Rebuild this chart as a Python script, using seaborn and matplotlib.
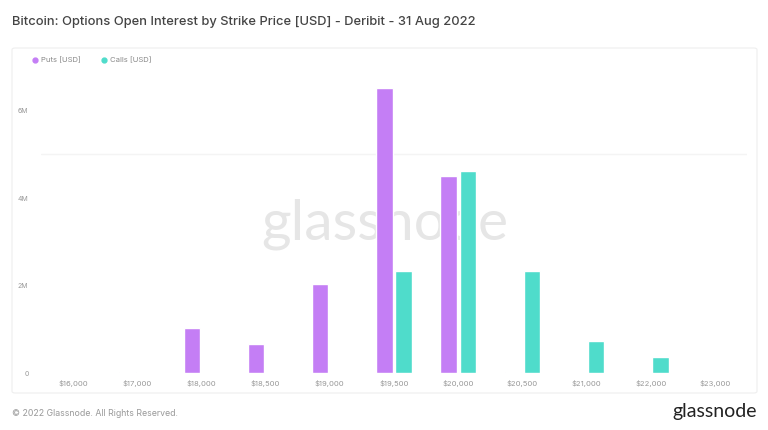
import matplotlib
matplotlib.use("Agg")
import matplotlib.pyplot as plt
import seaborn as sns
import pandas as pd
from matplotlib.patches import FancyBboxPatch
from matplotlib.lines import Line2D
from matplotlib.ticker import FuncFormatter

strikes = ["$16,000", "$17,000", "$18,000", "$18,500", "$19,000", "$19,500",
           "$20,000", "$20,500", "$21,000", "$22,000", "$23,000"]
puts_m = [0, 0.04, 1.03, 0.66, 2.05, 6.52, 4.50, 0.03, 0, 0, 0]
calls_m = [0, 0, 0, 0, 0, 2.34, 4.62, 2.34, 0.74, 0.38, 0]
series_names = ["Puts [USD]", "Calls [USD]"]
colors = ["#c47ef5", "#4fdccb"]
y_ticks_m = [0, 2, 4, 6]

sns.set_theme(style="white")
plt.rcParams["font.family"] = ["Inter", "DejaVu Sans"]

df = pd.DataFrame({
    "strike": strikes * 2,
    "series": [series_names[0]] * len(strikes) + [series_names[1]] * len(strikes),
    "value": [v * 1e6 for v in puts_m] + [v * 1e6 for v in calls_m],
})

fig = plt.figure(figsize=(7.68, 4.30), dpi=100)
W, H = 768, 430

# outer light panel
panel = FancyBboxPatch((12 / W, 1 - 393 / H), 745 / W, 345 / H,
                       boxstyle="round,pad=0,rounding_size=0.004",
                       transform=fig.transFigure, facecolor="white",
                       edgecolor="#eeeeee", linewidth=0.8, zorder=-5)
fig.patches.append(panel)

ax = fig.add_axes([41 / W, 1 - 373.3 / H, 706 / W, (373.3 - 80) / H])
ax.set_facecolor("none")
ax.set_zorder(1)

sns.barplot(data=df, x="strike", y="value", hue="series", palette=colors,
            hue_order=series_names, width=0.6, gap=0.15, legend=False,
            saturation=1, ax=ax, zorder=2)

ax.set_ylim(0, 6.7e6)
ax.set_xlim(-0.5, len(strikes) - 0.5)
ax.set_yticks([v * 1e6 for v in y_ticks_m])
ax.yaxis.set_major_formatter(FuncFormatter(lambda v, p: "0" if v == 0 else f"{v/1e6:.0f}M"))
ax.tick_params(axis="y", length=0, pad=9, labelsize=5, labelcolor="#999999")
ax.tick_params(axis="x", length=0, pad=5, labelsize=5.5, labelcolor="#999999")
ax.set_xlabel("")
ax.set_ylabel("")
for s in ax.spines.values():
    s.set_visible(False)
ax.axhline(5e6, color="#f4f4f4", lw=1, zorder=0.4)

# watermark
ax.text(0.501, 1 - 224 / H, "glassnode", transform=fig.transFigure,
        ha="center", va="center", fontsize=41, color="#e6e6e6",
        family=["Lato", "DejaVu Sans"], fontweight="normal",
        zorder=0.5, clip_on=False)

# legend
handles = [Line2D([0], [0], marker="o", linestyle="none", markersize=3.5,
                  markerfacecolor=c, markeredgecolor=c) for c in colors]
leg = fig.legend(handles, series_names, loc="center left",
                 bbox_to_anchor=(24 / W, 1 - 60 / H), ncol=2, frameon=False,
                 fontsize=5.5, labelcolor="#888888", handletextpad=0.3,
                 columnspacing=2.6, handlelength=1.0)
leg.set_zorder(3)

fig.text(12 / W, 1 - 22 / H, "Bitcoin: Options Open Interest by Strike Price [USD] - Deribit - 31 Aug 2022",
         ha="left", va="center", fontsize=9.3, color="#444444", fontweight="medium")
fig.text(12 / W, 1 - 413 / H, "© 2022 Glassnode. All Rights Reserved.",
         ha="left", va="center", fontsize=6.3, color="#999999")
fig.text(757 / W, 1 - 412 / H, "glassnode", ha="right", va="center",
         fontsize=14, color="#222222", family=["Lato", "DejaVu Sans"])

fig.savefig("out.png", dpi=100, facecolor="white")
